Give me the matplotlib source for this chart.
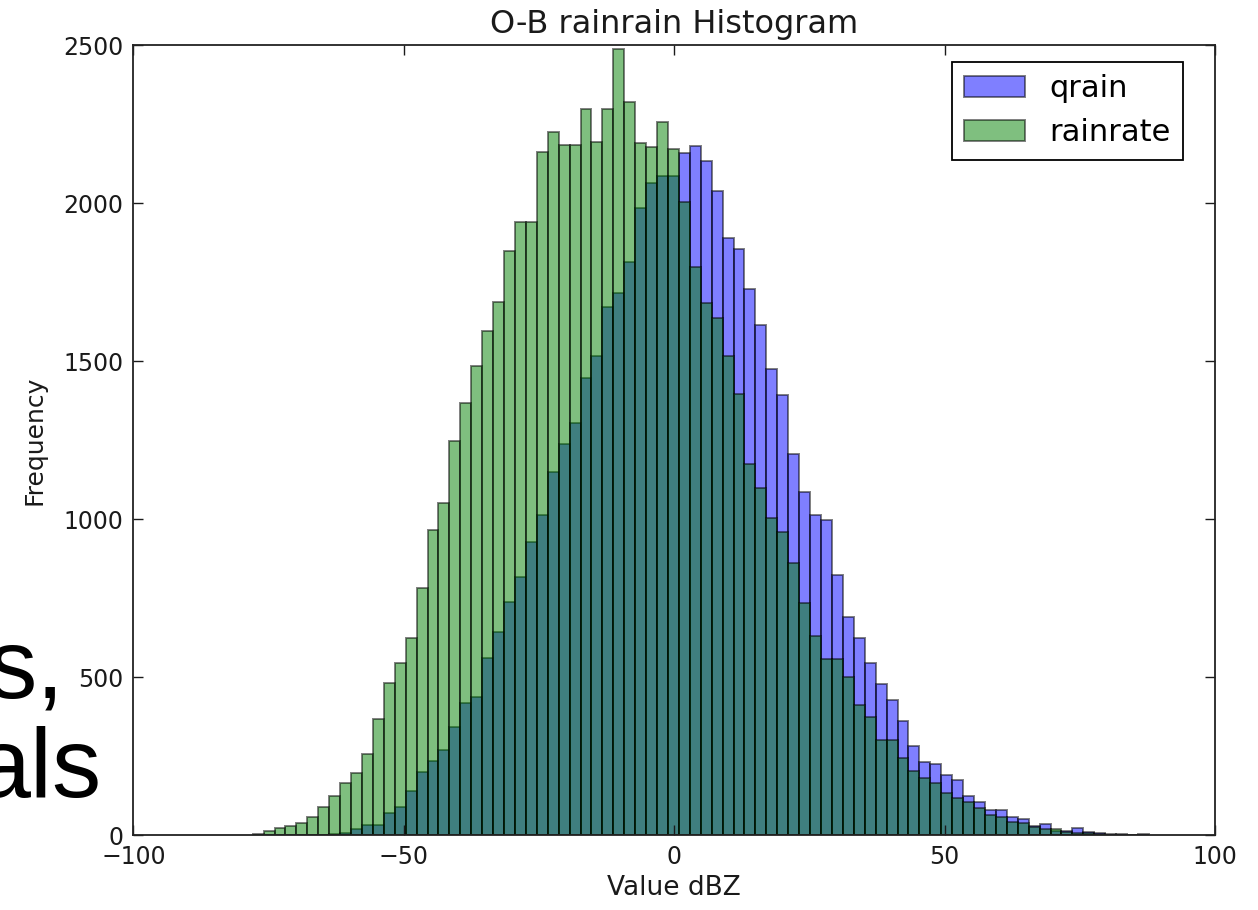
import numpy as np
import matplotlib
matplotlib.use("Agg")
from matplotlib import pyplot as plt

# %%
# Bin layout (common bins for both series)
bin_start = -77.94
bin_width = 2.021

# Counts per bin, left to right
qrain = [0, 0, 0, 0, 0, 1, 2, 4, 8, 19,
         33, 33, 70, 88, 140, 201, 235, 270, 344, 420,
         439, 560, 642, 739, 818, 927, 1013, 1150, 1237, 1306,
         1448, 1518, 1671, 1717, 1813, 1984, 2065, 2086, 2086, 2160,
         2181, 2135, 2040, 1889, 1854, 1728, 1615, 1475, 1393, 1207,
         1085, 1014, 998, 824, 692, 623, 544, 478, 428, 362,
         283, 233, 226, 191, 175, 124, 106, 80, 80, 59,
         51, 29, 35, 14, 14, 22, 11, 8, 4, 4,
         1, 4]
rainrate = [5, 15, 22, 30, 40, 59, 91, 125, 164, 196,
            257, 367, 483, 544, 624, 782, 966, 1051, 1248, 1367,
            1485, 1596, 1687, 1850, 1940, 1940, 2161, 2227, 2184, 2184,
            2297, 2195, 2297, 2487, 2322, 2192, 2177, 2256, 2172, 2005,
            1799, 1684, 1636, 1517, 1395, 1175, 1098, 1003, 959, 861,
            736, 631, 557, 557, 502, 412, 373, 302, 302, 244,
            204, 180, 164, 133, 117, 106, 85, 64, 59, 43,
            40, 25, 19, 20, 11, 8, 7, 4, 2, 1,
            0, 1]

edges = bin_start + bin_width * np.arange(len(qrain) + 1)
centres = (edges[:-1] + edges[1:]) / 2

# %%
fig = plt.figure(figsize=(12.58, 9.10), dpi=100)
ax = fig.add_axes([0.106, 0.0821, 0.8598, 0.8681])

ax.hist(centres, bins=edges, weights=qrain, color='b', alpha=0.5,
        edgecolor='k', linewidth=1.4, label='qrain')
ax.hist(centres, bins=edges, weights=rainrate, color='g', alpha=0.5,
        edgecolor='k', linewidth=1.4, label='rainrate')

ax.set_xlim(-100, 100)
ax.set_ylim(0, 2500)
ax.set_xticks([-100, -50, 0, 50, 100])
ax.set_yticks([0, 500, 1000, 1500, 2000, 2500])
ax.tick_params(direction='in', length=7, width=1, top=True, right=True,
               labelsize=17, colors='#1a1a1a')
ax.tick_params(axis='x', pad=7)
ax.tick_params(axis='y', pad=7)
for s in ax.spines.values():
    s.set_linewidth(1.3)
    s.set_color('#222222')

ax.set_title('O-B rainrain Histogram', fontsize=23, pad=9, color='#1a1a1a')
ax.set_xlabel('Value dBZ', fontsize=19, labelpad=4, color='#1a1a1a')
ax.set_ylabel('Frequency', fontsize=18, labelpad=12, color='#1a1a1a')

leg = ax.legend(loc='upper right', bbox_to_anchor=(0.9707, 0.979),
                borderaxespad=0, fontsize=22, fancybox=False,
                framealpha=1, edgecolor='k', handlelength=2)
leg.get_frame().set_linewidth(1.3)

# slide text bleeding in from the left
fig.text(-13 / 1258, 1 - 697 / 910, 's,', fontsize=71,
         family='Liberation Sans', color='k', ha='left', va='baseline')
fig.text(-24 / 1258, 1 - 797 / 910, 'als', fontsize=71,
         family='Liberation Sans', color='k', ha='left', va='baseline')

fig.savefig('out.png', dpi=100)
